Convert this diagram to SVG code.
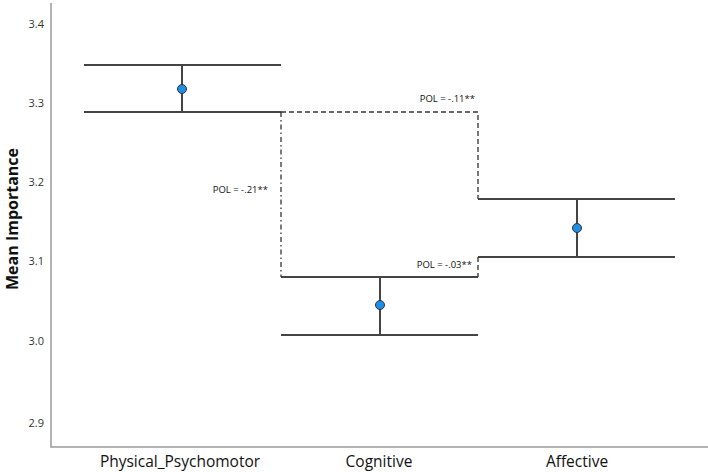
<svg xmlns="http://www.w3.org/2000/svg" width="708" height="472" viewBox="0 0 708 472">
<style>
.axis{stroke:#9a9a9a;stroke-width:1.5;fill:none}
.bar{stroke:#444;stroke-width:2;fill:none}
.pt{fill:#1e8fe6;stroke:#333;stroke-width:1}
.tick{font-family:"Open Sans","Liberation Sans",sans-serif;font-size:11px;fill:#333;text-anchor:end}
.cat{font-family:"Open Sans","Liberation Sans",sans-serif;font-size:15.5px;fill:#111;text-anchor:middle}
.pol{font-family:"Open Sans","Liberation Sans",sans-serif;font-size:9.5px;fill:#111;text-anchor:end}
.dash{stroke:#333;stroke-width:1.3;fill:none;stroke-dasharray:5,3}
.dashdot{stroke:#333;stroke-width:1.3;fill:none;stroke-dasharray:5,3,1.5,3}
</style>
<rect width="708" height="472" fill="#fff"/>
<g id="axes">
<path class="axis" d="M51,3 V447 H708"/>
<text class="tick" x="44" y="28">3.4</text>
<text class="tick" x="44" y="107">3.3</text>
<text class="tick" x="44" y="186">3.2</text>
<text class="tick" x="44" y="265">3.1</text>
<text class="tick" x="44" y="345">3.0</text>
<text class="tick" x="44" y="427">2.9</text>
<text class="cat" x="180" y="467">Physical_Psychomotor</text>
<text class="cat" x="379" y="467">Cognitive</text>
<text class="cat" x="577" y="467">Affective</text>
<text transform="translate(18,219) rotate(-90)" font-family="'Open Sans','Liberation Sans',sans-serif" font-size="16" font-weight="bold" fill="#111" text-anchor="middle">Mean Importance</text>
</g>
<g id="physical">
<path class="bar" d="M84,65 H281 M84,112 H281 M182,65 V112"/>
<circle class="pt" cx="182" cy="89" r="4.5"/>
</g>
<g id="cognitive">
<path class="bar" d="M281,277 H478 M281,335 H478 M380,277 V335"/>
<circle class="pt" cx="380" cy="305" r="4.5"/>
</g>
<g id="affective">
<path class="bar" d="M478,199 H675 M478,257 H675 M577,199 V257"/>
<circle class="pt" cx="577" cy="228" r="4.5"/>
</g>
<g id="connectors">
<path class="dash" d="M281,112 H478 V199"/>
<path class="dashdot" d="M281,112 V277"/>
<path class="dash" d="M478,257 V277"/>
<text class="pol" x="475" y="102">POL = -.11**</text>
<text class="pol" x="268" y="193">POL = -.21**</text>
<text class="pol" x="472" y="268">POL = -.03**</text>
</g>
</svg>
